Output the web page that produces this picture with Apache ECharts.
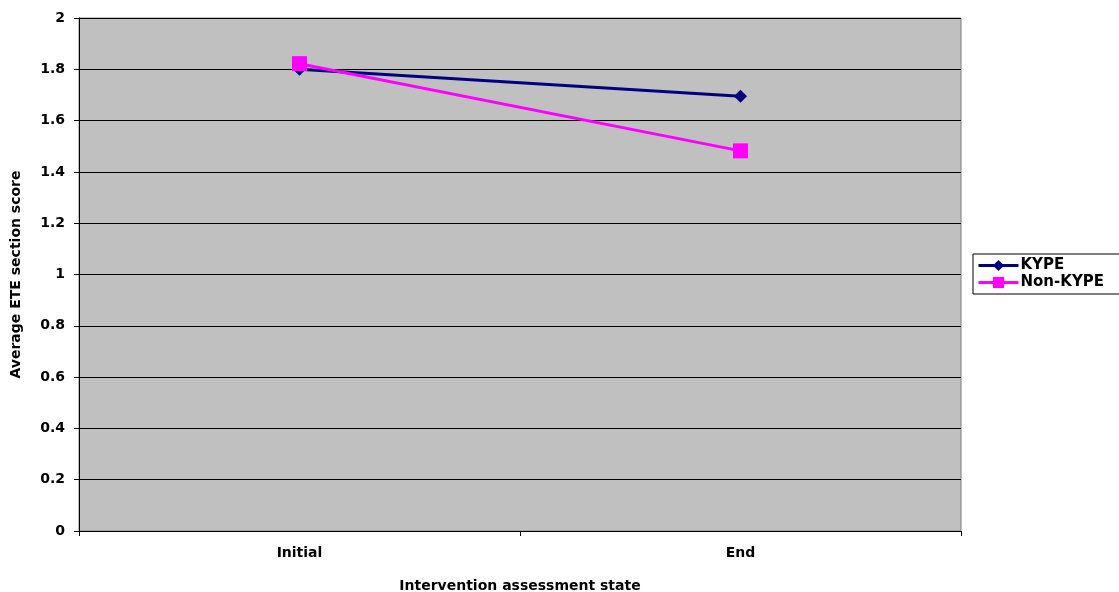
<!DOCTYPE html>
<html><head><meta charset="utf-8">
<script src="https://cdn.jsdelivr.net/npm/echarts@6/dist/echarts.min.js"></script>
<style>html,body{margin:0;padding:0;background:#fff}#c{width:1119px;height:592px}</style>
</head><body><div id="c"></div>
<script>
const categories = ['Initial', 'End'];
const kype = [1.80, 1.695];
const nonKype = [1.822, 1.482];
const yTicks = [0, 0.2, 0.4, 0.6, 0.8, 1, 1.2, 1.4, 1.6, 1.8, 2];

const font = 'DejaVu Sans, Verdana, sans-serif';
const chart = echarts.init(document.getElementById('c'));
chart.setOption({
  animation: false,
  backgroundColor: '#fff',
  grid: { left: 79, right: 158, top: 18, bottom: 61, outerBoundsMode: 'none', containLabel: false,
    show: true, backgroundColor: '#C0C0C0', borderColor: '#808080', borderWidth: 1 },
  legend: {
    left: 973, top: 254, orient: 'vertical', borderColor: '#000', borderWidth: 1, padding: [3, 20, 3, 4],
    itemWidth: 40, itemHeight: 14, itemGap: 0,
    lineStyle: { width: 3 },
    textStyle: { fontFamily: font, fontWeight: 'bold', fontSize: 15, lineHeight: 17, color: '#000', padding: [0, 0, 0, -3] },
    data: ['KYPE', 'Non-KYPE']
  },
  xAxis: {
    type: 'category', data: categories, boundaryGap: true,
    name: 'Intervention assessment state', nameLocation: 'middle', nameGap: 48,
    nameTextStyle: { fontFamily: font, fontWeight: 'bold', fontSize: 14, color: '#000' },
    axisLine: { lineStyle: { color: '#000', width: 1 } },
    axisTick: { show: true, length: 5, lineStyle: { color: '#000' } },
    axisLabel: { fontFamily: font, fontWeight: 'bold', fontSize: 14, color: '#000', margin: 15 }
  },
  yAxis: {
    type: 'value', min: 0, max: 2, interval: 0.2,
    name: 'Average ETE section score', nameLocation: 'middle', nameGap: 56, nameRotate: 90,
    nameTextStyle: { fontFamily: font, fontWeight: 'bold', fontSize: 14, color: '#000' },
    axisLine: { show: true, lineStyle: { color: '#000', width: 1 } },
    axisTick: { show: true, length: 5, lineStyle: { color: '#000' } },
    splitLine: { lineStyle: { color: '#000', width: 1 } },
    axisLabel: { fontFamily: font, fontWeight: 'bold', fontSize: 14, color: '#000', margin: 14,
      formatter: v => { const t = yTicks.find(x => Math.abs(x - v) < 1e-9); return t === undefined ? '' : String(t); } }
  },
  series: [
    { name: 'KYPE', type: 'line', data: kype, symbol: 'diamond', symbolSize: 13,
      itemStyle: { color: '#000080' }, lineStyle: { color: '#000080', width: 3 } },
    { name: 'Non-KYPE', type: 'line', data: nonKype, symbol: 'rect', symbolSize: 15,
      itemStyle: { color: '#FF00FF' }, lineStyle: { color: '#FF00FF', width: 3 } }
  ]
});
</script></body></html>
